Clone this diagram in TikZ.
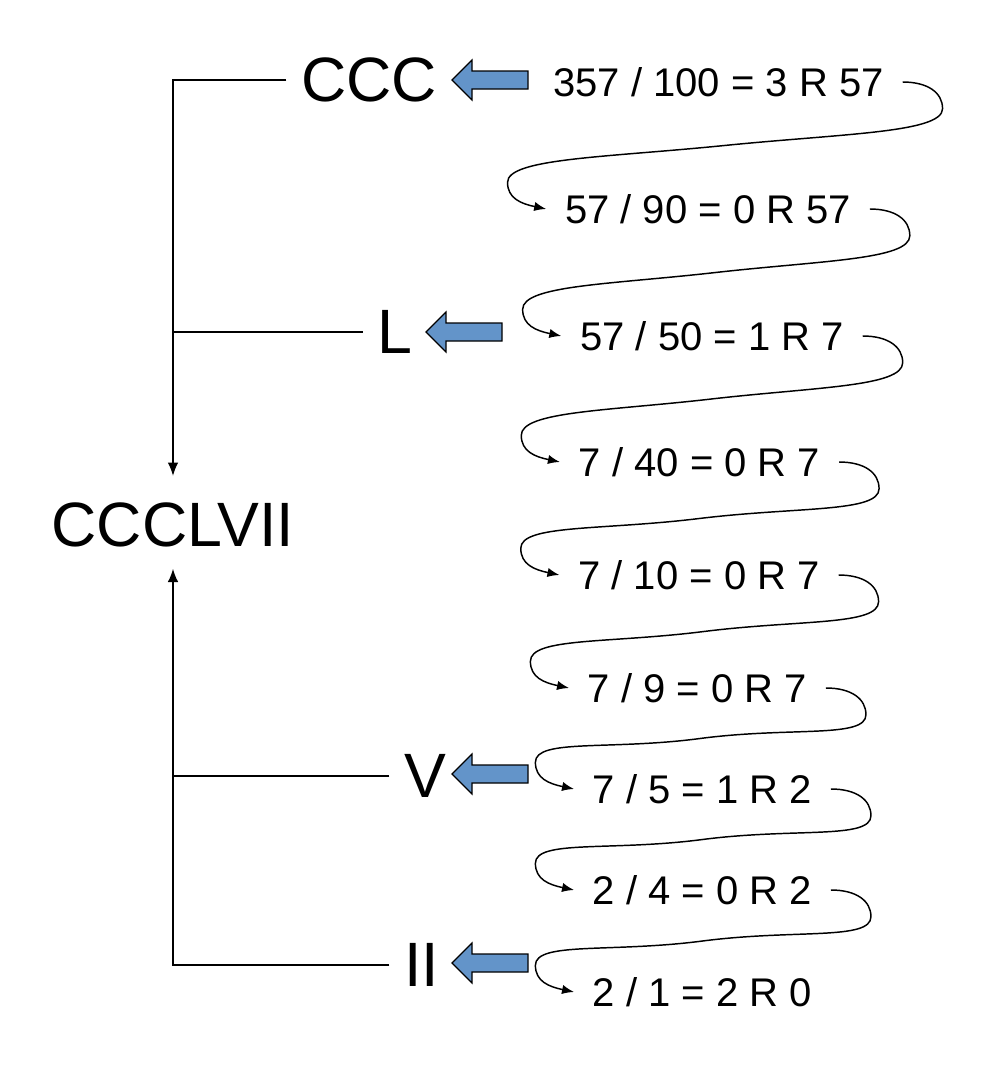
\documentclass[tikz,border=0pt]{standalone}
\usepackage{fontspec}
\setmainfont{Liberation Sans}
\usetikzlibrary{calc,arrows.meta}

\definecolor{arrowblue}{RGB}{99,148,201}

\tikzset{
  roman/.style={inner sep=0pt, outer xsep=11pt, font=\fontsize{47}{50}\selectfont},
  division/.style={inner xsep=14pt, inner ysep=0pt, font=\fontsize{30}{32}\selectfont},
  bar/.style={draw, line width=1.1pt},
  flow/.style={draw, line width=1.1pt, -{Latex[length=9pt,width=7pt]}},
  hook/.style={to path={let \p1=(\tikztostart), \p2=(\tikztotarget), \p3=($(\p1)!.5!(\p2)$),
      \p4=(\x1+30pt,\y1-20pt), \p5=(\x2-29pt,\y2+20pt) in
    .. controls +(19pt,0pt) and +(0pt,12pt) .. (\p4)
    .. controls +(0pt,-18pt) and ({\x3+0.55*(\x4-\x3)},\y3+9pt) .. (\p3)
    .. controls ({\x3+0.55*(\x5-\x3)},\y3-9pt) and +(0pt,18pt) .. (\p5)
    .. controls +(0pt,-12pt) and +(-19pt,4pt) .. (\p2) \tikztonodes}},
  blockarrow/.style={draw=black, line width=0.9pt, fill=arrowblue, line join=miter}
}

\begin{document}
\begin{tikzpicture}[x=0.75pt, y=-0.75pt]
    \useasboundingbox (0,0) rectangle (986,1078);
    % Place nodes
    \node [roman] (ccc) at (369,80) {CCC};
    \node [roman] (l) at (395,332) {L};
    \node [roman] (v) at (425,776) {V};
    \node [roman] (ii) at (421.5,965) {II};
    \node [roman] (res) at (173,525) {CCCLVII};
    \node [division] (e1) at (718.5,82) {357 / 100 = 3 R 57};
    \node [division] (e2) at (708,209) {57 / 90 = 0 R 57};
    \node [division] (e3) at (712,336) {57 / 50 = 1 R 7};
    \node [division] (e4) at (699.5,462) {7 / 40 = 0 R 7};
    \node [division] (e5) at (699,575) {7 / 10 = 0 R 7};
    \node [division] (e6) at (697.5,688) {7 / 9 = 0 R 7};
    \node [division] (e7) at (702.5,789) {7 / 5 = 1 R 2};
    \node [division] (e8) at (702.5,890) {2 / 4 = 0 R 2};
    \node [division] (e9) at (702.5,992) {2 / 1 = 2 R 0};
    % bracket
    \path[bar, -{Latex[length=10pt,width=8pt]}] (ccc.west) -| ([yshift=20pt]res.north);
    \path[bar] (l.west) -- (l.west -| res.north);
    \path[bar] (v.west) -- (v.west -| res.south);
    \path[bar, -{Latex[length=10pt,width=8pt]}] (ii.west) -| ([yshift=-16pt]res.south);
    % divisions
    \foreach \a/\b in {e1/e2, e2/e3, e3/e4, e4/e5, e5/e6, e6/e7, e7/e8, e8/e9}
        \path[flow] (\a.east) to[hook] (\b.west);
    % blue arrows
    \foreach \x/\y in {452/80, 426/332, 452/774, 452/963}
        \path[blockarrow] (\x,\y) -- ++(20,-20) -- ++(0,11) -- ++(56,0) -- ++(0,18) -- ++(-56,0) -- ++(0,11) -- cycle;
\end{tikzpicture}
\end{document}
